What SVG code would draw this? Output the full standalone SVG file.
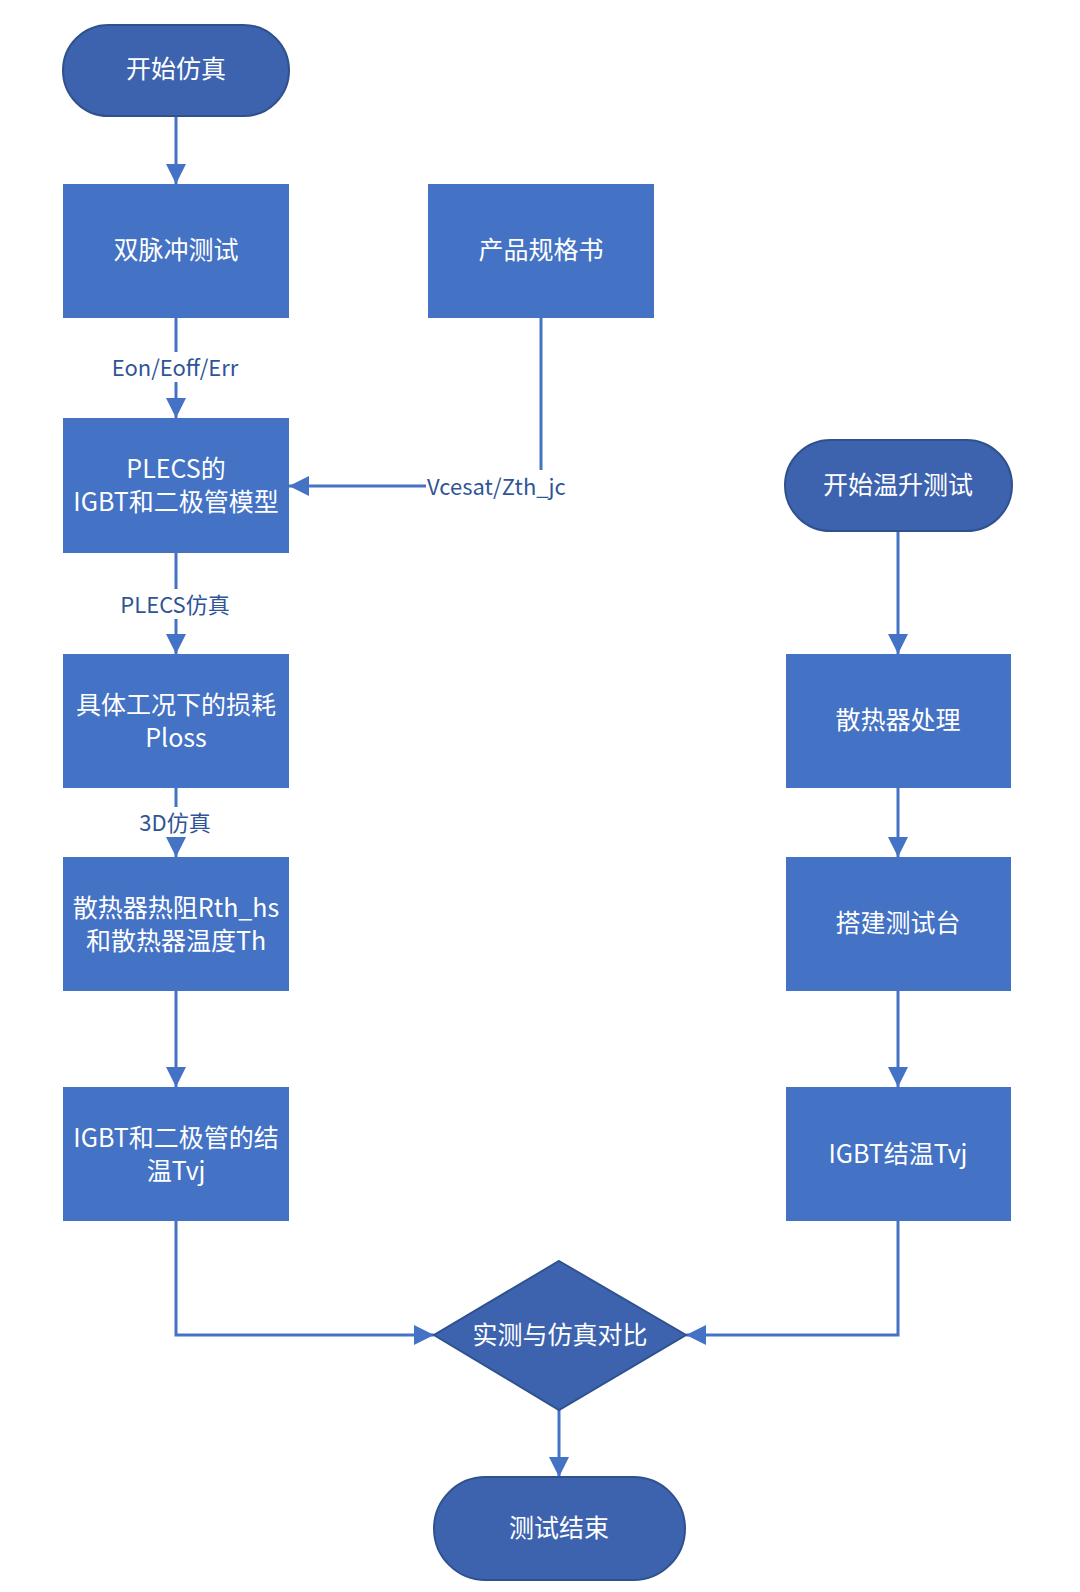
<svg xmlns="http://www.w3.org/2000/svg" width="1080" height="1592" viewBox="0 0 1080 1592">
<defs>
<style>
.term{fill:#3D63AF;stroke:#2F528F;stroke-width:2}
.box{fill:#4472C4}
.dia{fill:#3D63AF;stroke:#2F528F;stroke-width:2}
.t{fill:#ffffff;font-family:"Noto Sans CJK SC","Noto Sans",sans-serif;font-size:25px;text-anchor:middle;dominant-baseline:central}
.lbl{fill:#2F5597;font-family:"Noto Sans CJK SC","Noto Sans",sans-serif;font-size:22px;dominant-baseline:central}
.c{fill:none;stroke:#4472C4;stroke-width:3}
</style>
<marker id="ah" markerUnits="userSpaceOnUse" markerWidth="20" markerHeight="20" viewBox="0 0 20 20" refX="20" refY="10" orient="auto">
<path d="M0,0 L20,10 L0,20 Z" fill="#4472C4"/>
</marker>
</defs>
<rect width="1080" height="1592" fill="#ffffff"/>
<g id="connectors">
<path class="c" d="M176,116 V184" marker-end="url(#ah)"/>
<path class="c" d="M176,318 V352"/>
<path class="c" d="M176,382 V418" marker-end="url(#ah)"/>
<path class="c" d="M541,318 V470"/>
<path class="c" d="M426,486 H289" marker-end="url(#ah)"/>
<path class="c" d="M176,553 V589"/>
<path class="c" d="M176,619 V654" marker-end="url(#ah)"/>
<path class="c" d="M176,788 V807"/>
<path class="c" d="M176,837 V857" marker-end="url(#ah)"/>
<path class="c" d="M176,991 V1087" marker-end="url(#ah)"/>
<path class="c" d="M176,1221 V1335 H434" marker-end="url(#ah)"/>
<path class="c" d="M898,531 V654" marker-end="url(#ah)"/>
<path class="c" d="M898,788 V857" marker-end="url(#ah)"/>
<path class="c" d="M898,991 V1087" marker-end="url(#ah)"/>
<path class="c" d="M898,1221 V1335 H686" marker-end="url(#ah)"/>
<path class="c" d="M559,1410 V1477" marker-end="url(#ah)"/>
<text class="lbl" x="175" y="366" text-anchor="middle">Eon/Eoff/Err</text>
<text class="lbl" x="427" y="485">Vcesat/Zth_jc</text>
<text class="lbl" x="175" y="603" text-anchor="middle">PLECS仿真</text>
<text class="lbl" x="175" y="821" text-anchor="middle">3D仿真</text>
</g>
<g id="start-sim">
<rect class="term" x="63" y="25" width="226" height="91" rx="45.5"/>
<text class="t" x="176" y="67">开始仿真</text>
</g>
<g id="double-pulse">
<rect class="box" x="63" y="184" width="226" height="134"/>
<text class="t" x="176" y="248">双脉冲测试</text>
</g>
<g id="spec">
<rect class="box" x="428" y="184" width="226" height="134"/>
<text class="t" x="541" y="248">产品规格书</text>
</g>
<g id="plecs-model">
<rect class="box" x="63" y="418" width="226" height="135"/>
<text class="t" x="176" y="467">PLECS的</text>
<text class="t" x="176" y="500">IGBT和二极管模型</text>
</g>
<g id="ploss">
<rect class="box" x="63" y="654" width="226" height="134"/>
<text class="t" x="176" y="703">具体工况下的损耗</text>
<text class="t" x="176" y="736">Ploss</text>
</g>
<g id="heatsink-rth">
<rect class="box" x="63" y="857" width="226" height="134"/>
<text class="t" x="176" y="906">散热器热阻Rth_hs</text>
<text class="t" x="176" y="939">和散热器温度Th</text>
</g>
<g id="tvj-sim">
<rect class="box" x="63" y="1087" width="226" height="134"/>
<text class="t" x="176" y="1136">IGBT和二极管的结</text>
<text class="t" x="176" y="1169">温Tvj</text>
</g>
<g id="start-temp">
<rect class="term" x="785" y="440" width="227" height="91" rx="45.5"/>
<text class="t" x="898" y="483">开始温升测试</text>
</g>
<g id="heatsink-proc">
<rect class="box" x="786" y="654" width="225" height="134"/>
<text class="t" x="898" y="718">散热器处理</text>
</g>
<g id="testbench">
<rect class="box" x="786" y="857" width="225" height="134"/>
<text class="t" x="898" y="921">搭建测试台</text>
</g>
<g id="tvj-meas">
<rect class="box" x="786" y="1087" width="225" height="134"/>
<text class="t" x="898" y="1152">IGBT结温Tvj</text>
</g>
<g id="compare">
<polygon class="dia" points="559,1261 686,1335 559,1410 434,1335"/>
<text class="t" x="560" y="1333">实测与仿真对比</text>
</g>
<g id="end">
<rect class="term" x="434" y="1477" width="251" height="103" rx="51.5"/>
<text class="t" x="559" y="1526">测试结束</text>
</g>
</svg>
